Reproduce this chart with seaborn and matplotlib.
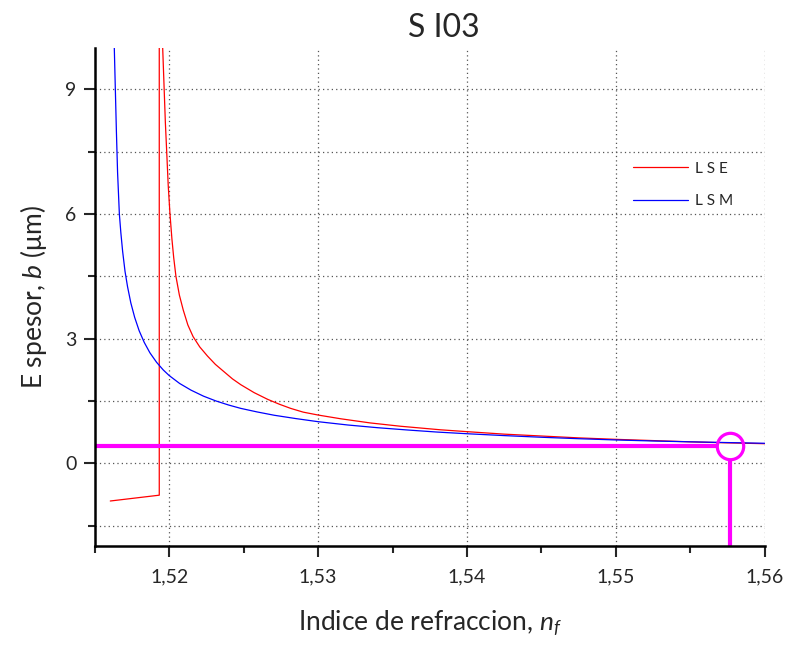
import numpy as np
import matplotlib
matplotlib.use("Agg")
import matplotlib.pyplot as plt
from matplotlib.ticker import MultipleLocator, FuncFormatter
import seaborn as sns

# =========================
# Data
# =========================

lsm_nf = [1.51625, 1.51631, 1.51638, 1.51645, 1.51653, 1.51659, 1.51665, 1.51675,
          1.51687, 1.51703, 1.51720, 1.51742, 1.51768, 1.51798, 1.51832, 1.51870,
          1.51915, 1.51960, 1.52000, 1.52070, 1.52146, 1.52230, 1.52313, 1.52400,
          1.52481, 1.52590, 1.52705, 1.52850, 1.53000, 1.53200, 1.53400, 1.53600,
          1.53800, 1.54000, 1.54250, 1.54500, 1.54750, 1.55000, 1.55250, 1.55500,
          1.55750, 1.56000]
lsm_b = [11.0, 10.0, 9.0, 8.0, 7.0, 6.5, 6.0, 5.55,
         5.1, 4.62, 4.25, 3.86, 3.51, 3.19, 2.91, 2.66,
         2.43, 2.245, 2.11, 1.92, 1.76, 1.615, 1.50, 1.40,
         1.32, 1.235, 1.155, 1.075, 1.00, 0.92, 0.855, 0.80,
         0.75, 0.71, 0.665, 0.625, 0.59, 0.56, 0.535, 0.515,
         0.497, 0.48]

lse_nf = [1.51604, 1.51933, 1.51933, 1.51950, 1.51956, 1.51966, 1.51974, 1.51983,
          1.51993, 1.52005, 1.52018, 1.52030, 1.52045, 1.52068, 1.52094, 1.52125,
          1.52160, 1.52205, 1.52257, 1.52310, 1.52369, 1.52425, 1.52481, 1.52570,
          1.52660, 1.52740, 1.52816, 1.52900, 1.53000, 1.53152, 1.53350, 1.53554,
          1.53821, 1.54000, 1.54250, 1.54500, 1.54750, 1.55000, 1.55250, 1.55500,
          1.55750, 1.56000]
lse_b = [-0.91, -0.77, 40.0, 11.5, 10.0, 9.0, 8.2, 7.5,
         6.7, 6.0, 5.4, 4.95, 4.5, 4.05, 3.69, 3.33,
         3.05, 2.80, 2.58, 2.38, 2.20, 2.03, 1.89, 1.70,
         1.54, 1.42, 1.32, 1.23, 1.16, 1.07, 0.97, 0.89,
         0.805, 0.76, 0.70, 0.655, 0.61, 0.575, 0.545, 0.515,
         0.49, 0.47]

# selected point (magenta marker)
nf_sel = 1.5577
b_sel = 0.42

x_range = (1.515, 1.56)
y_range = (-2, 10)

# =========================
# Style
# =========================

sns.set_style("ticks")
plt.rcParams["font.family"] = ["Lato", "DejaVu Sans"]
plt.rcParams["mathtext.fontset"] = "custom"
plt.rcParams["mathtext.it"] = "Lato:italic"
plt.rcParams["mathtext.rm"] = "Lato"

fig, ax = plt.subplots(figsize=(7.9, 6.48), dpi=100)
fig.subplots_adjust(left=0.120, right=0.968, top=0.926, bottom=0.157)

# =========================
# Curves
# =========================

sns.lineplot(x=lse_nf, y=lse_b, ax=ax, color="#ff0000", lw=0.9,
             sort=False, estimator=None, label="L S E")
sns.lineplot(x=lsm_nf, y=lsm_b, ax=ax, color="#0000ff", lw=0.9,
             sort=False, estimator=None, label="L S M")

# magenta guide lines + circle
mag = "#ff00ff"
ax.plot([x_range[0], nf_sel - 0.00095], [b_sel, b_sel], color=mag, lw=3, solid_capstyle="butt")
ax.plot([nf_sel, nf_sel], [y_range[0], b_sel - 0.31], color=mag, lw=3, solid_capstyle="butt")
ax.plot([nf_sel], [b_sel], marker="o", ms=19, mfc="none", mec=mag, mew=2.3, linestyle="None")

# =========================
# Axes
# =========================

ax.set_xlim(*x_range)
ax.set_ylim(*y_range)

ax.xaxis.set_major_locator(MultipleLocator(0.01))
ax.xaxis.set_minor_locator(MultipleLocator(0.005))
ax.yaxis.set_major_locator(MultipleLocator(3))
ax.yaxis.set_minor_locator(MultipleLocator(1.5))

ax.xaxis.set_major_formatter(FuncFormatter(lambda v, p: f"{v:.2f}".replace(".", ",")))
ax.yaxis.set_major_formatter(FuncFormatter(lambda v, p: f"{v:.0f}"))

ax.tick_params(which="major", direction="out", length=8, width=1.5, labelsize=14, pad=8)
ax.tick_params(axis="y", which="major", pad=5)
ax.tick_params(which="minor", direction="out", length=5, width=1.5)

ax.yaxis.grid(True, which="both", linestyle=(0, (1, 2.5)), color="#555555", lw=0.9)
ax.xaxis.grid(True, which="major", linestyle=(0, (1, 2.5)), color="#555555", lw=0.9)

sns.despine(ax=ax)
for s in ("left", "bottom"):
    ax.spines[s].set_linewidth(1.8)
    ax.spines[s].set_color("black")

ax.set_xlabel("Indice de refraccion, $n_f$", fontsize=19, labelpad=16)
ax.set_ylabel("E spesor, $b$ (μm)", fontsize=19, labelpad=12)
ax.set_title("S I03", fontsize=23, pad=8, x=0.521)

ax.legend(loc="upper left", bbox_to_anchor=(0.794, 0.784), frameon=False,
          fontsize=11, handlelength=3.6, handletextpad=0.45, labelspacing=1.2,
          borderaxespad=0)

fig.savefig("out.png", dpi=100)
